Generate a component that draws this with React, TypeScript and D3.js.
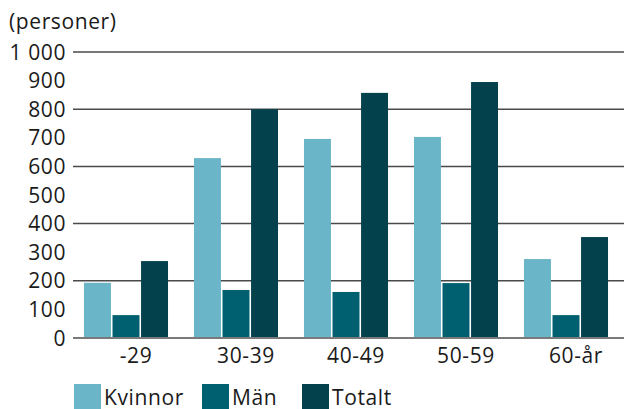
import React, { useEffect, useRef } from "react";
import * as d3 from "d3";

const categories: string[] = ["-29", "30-39", "40-49", "50-59", "60-år"];
const seriesNames: string[] = ["Kvinnor", "Män", "Totalt"];
const kvinnor: number[] = [193, 629, 696, 703, 276];
const man: number[] = [80, 168, 161, 192, 80];
const totalt: number[] = [269, 800, 857, 895, 353];
const yTicks: number[] = [0, 100, 200, 300, 400, 500, 600, 700, 800, 900, 1000];
const gridTicks: number[] = [200, 400, 600, 800, 1000];
const colors: string[] = ["#6ab5c8", "#00606f", "#03414d"];

const FONT = "'Open Sans', sans-serif";
const FS = 21;
const LS = 0.6;

export default function App() {
  const svgRef = useRef<SVGSVGElement>(null);

  useEffect(() => {
    const svg = d3.select(svgRef.current);
    const width = 624;
    const height = 409;
    const values = [kvinnor, man, totalt];

    svg.selectAll("*").remove();

    const x0 = d3
      .scaleBand<string>()
      .domain(categories)
      .range([71, 621])
      .paddingInner(0.236)
      .paddingOuter(0.118);

    const x1 = d3
      .scaleBand<string>()
      .domain(seriesNames)
      .range([0, x0.bandwidth()])
      .paddingInner(0.055);

    const y = d3.scaleLinear().domain([0, 1000]).range([338, 52]);

    // gridlines (every 200)
    svg
      .append("g")
      .selectAll("line")
      .data(gridTicks)
      .enter()
      .append("line")
      .attr("x1", 73)
      .attr("x2", width)
      .attr("y1", (d) => y(d))
      .attr("y2", (d) => y(d))
      .attr("stroke", "#4a4a4a")
      .attr("stroke-width", 1.5);

    // bars
    const rows = categories.map((c, i) => ({
      cat: c,
      vals: seriesNames.map((s, j) => ({ name: s, value: values[j][i], idx: j })),
    }));

    svg
      .append("g")
      .selectAll("g")
      .data(rows)
      .enter()
      .append("g")
      .attr("transform", (d) => `translate(${x0(d.cat)},0)`)
      .selectAll("rect")
      .data((d) => d.vals)
      .enter()
      .append("rect")
      .attr("x", (d) => x1(d.name) as number)
      .attr("y", (d) => y(d.value))
      .attr("width", x1.bandwidth())
      .attr("height", (d) => y(0) - y(d.value))
      .attr("fill", (d) => colors[d.idx]);

    // baseline
    svg
      .append("line")
      .attr("x1", 73)
      .attr("x2", width)
      .attr("y1", y(0))
      .attr("y2", y(0))
      .attr("stroke", "#7a7a7a")
      .attr("stroke-width", 2);

    const styleText = (sel: any) =>
      sel
        .attr("font-family", FONT)
        .attr("font-size", FS)
        .attr("letter-spacing", LS)
        .attr("fill", "#1a1a1a");

    // y tick labels
    const fmt = (v: number) => d3.format(",")(v).replace(",", " ");
    svg
      .append("g")
      .selectAll("text")
      .data(yTicks)
      .enter()
      .append("text")
      .attr("x", 66)
      .attr("y", (d) => y(d))
      .attr("dy", "0.36em")
      .attr("text-anchor", "end")
      .call(styleText)
      .text((d) => fmt(d));

    // x labels (slightly shifted right, like the original)
    svg
      .append("g")
      .selectAll("text")
      .data(categories)
      .enter()
      .append("text")
      .attr("x", (d) => (x0(d) as number) + x0.bandwidth() / 2 + 10)
      .attr("y", 363)
      .attr("text-anchor", "middle")
      .call(styleText)
      .text((d) => d);

    // unit label
    svg
      .append("text")
      .attr("x", 9)
      .attr("y", 29)
      .call(styleText)
      .text("(personer)");

    // legend
    const legendX = [74, 202, 302];
    const legend = svg
      .append("g")
      .selectAll("g")
      .data(seriesNames)
      .enter()
      .append("g")
      .attr("transform", (d, i) => `translate(${legendX[i]},384)`);
    legend
      .append("rect")
      .attr("width", 27)
      .attr("height", 26)
      .attr("fill", (d, i) => colors[i]);
    legend
      .append("text")
      .attr("x", 30)
      .attr("y", 20.5)
      .call(styleText)
      .text((d) => d);

    svg.attr("width", width).attr("height", height);
  }, []);

  return (
    <svg
      ref={svgRef}
      width={624}
      height={409}
      style={{ position: "absolute", left: 0, top: 0 }}
    />
  );
}
